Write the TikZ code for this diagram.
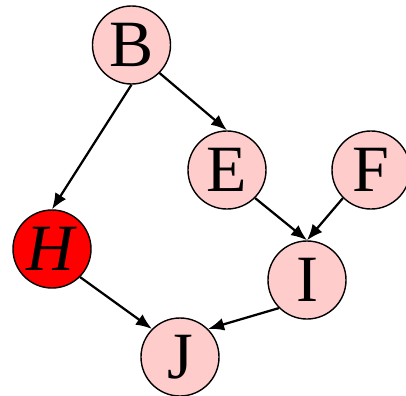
\documentclass[tikz,border=0pt]{standalone}
\usepackage{fontspec}
\setmainfont{Liberation Serif}
\usepackage{xcolor}
\usetikzlibrary{arrows.meta}

\begin{document}
\begin{tikzpicture}[
  x=0.025cm, y=-0.025cm,
  vert/.style={circle, draw=black, line width=1pt, fill=red!20, minimum size=1.95cm,
               inner sep=0pt, font=\fontsize{47}{52}\selectfont},
  arr/.style={-{Latex[length=0.4cm, width=0.32cm]}, line width=1.6pt, draw=black}
]
  \useasboundingbox (0,0) rectangle (406,395);

  % Vertices
  \node[vert]           (B) at (131.5,45)  {B};
  \node[vert]           (E) at (227,170)   {E};
  \node[vert]           (F) at (371,170)   {F};
  \node[vert, fill=red] (H) at (52,249)    {\textit{H}};
  \node[vert]           (I) at (307,280)   {I};
  \node[vert]           (J) at (180,357)   {J};

  % Edges
  \draw[arr] (B.south) -- (H.north);
  \draw[arr] (B.-45)   -- (E.north);
  \draw[arr] (E.-45)   -- (I.north);
  \draw[arr] (F.-135)  -- (I.north);
  \draw[arr] (H.-45)   -- (J.135);
  \draw[arr] (I.-135)  -- (J.45);
\end{tikzpicture}
\end{document}
